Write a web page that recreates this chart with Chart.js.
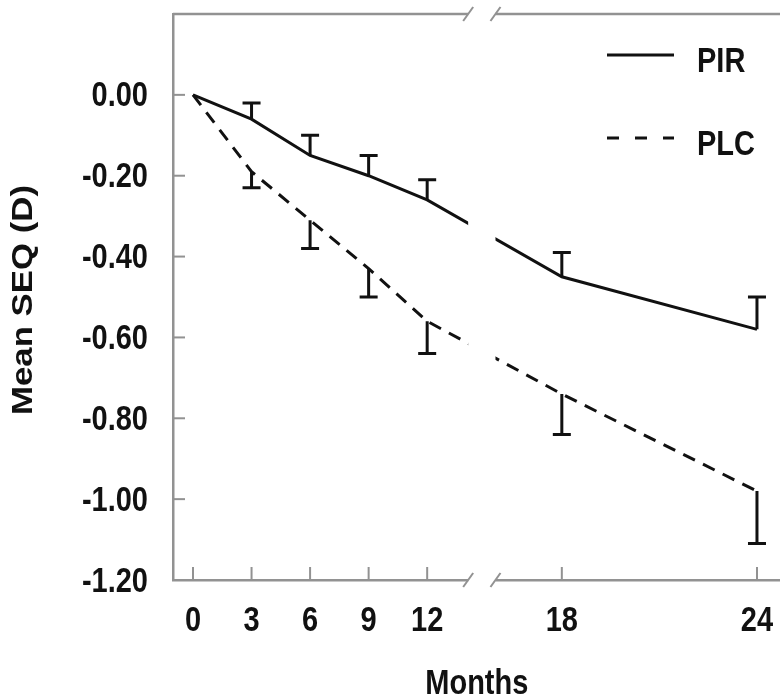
<!DOCTYPE html>
<html>
<head>
<meta charset="utf-8">
<script src="https://cdn.jsdelivr.net/npm/chart.js@4.4.1/dist/chart.umd.min.js"></script>
<style>
  body { margin: 0; background: #fff; }
</style>
</head>
<body>
<canvas id="seqChart" width="780" height="700"></canvas>
<script>
const months = [0, 3, 6, 9, 12, 18, 24];
const pirMean = [0, -0.06, -0.15, -0.20, -0.26, -0.45, -0.58];
const pirErrEnd = [null, -0.02, -0.10, -0.15, -0.21, -0.39, -0.50];
const plcMean = [0, -0.19, -0.31, -0.43, -0.56, -0.74, -0.98];
const plcErrEnd = [null, -0.23, -0.38, -0.50, -0.64, -0.84, -1.11];
const yTicks = [0, -0.2, -0.4, -0.6, -0.8, -1.0, -1.2];

const ink = "#111";
const axisGray = "#929292";
const fontCss = "bold 29px 'Liberation Sans', Arial, sans-serif";
const stretch = 1.2; // lettering is taller than plain Arial

// x axis is broken between 12 and 18 months, the late part is stretched
const breakFrom = 14.1;
const breakTo = 15.5;
function axisPos(m) {
  return m <= 12 ? m : 18.9 + (m - 18) * (10 / 6);
}

const toPoints = (vals) => months.map((m, i) => ({ x: axisPos(m), y: vals[i] }));

const data = {
  datasets: [
    {
      label: "PIR",
      data: toPoints(pirMean),
      borderColor: ink,
      borderWidth: 3,
      pointRadius: 0,
      errEnd: pirErrEnd,
    },
    {
      label: "PLC",
      data: toPoints(plcMean),
      borderColor: ink,
      borderWidth: 3,
      borderDash: [13, 9],
      pointRadius: 0,
      errEnd: plcErrEnd,
    },
  ],
};

// text drawn taller along its height; rotate for the vertical title
function tallText(ctx, text, x, y, align, rotate) {
  ctx.save();
  ctx.translate(x, y);
  if (rotate) {
    ctx.rotate(-Math.PI / 2);
    ctx.scale(stretch, 1);
  } else {
    ctx.scale(1, stretch);
  }
  ctx.font = fontCss;
  ctx.fillStyle = ink;
  ctx.textAlign = align;
  ctx.textBaseline = "middle";
  ctx.fillText(text, 0, 0);
  ctx.restore();
}

const breakPlugin = {
  id: "breakMarks",
  afterDraw(chart) {
    const { ctx, chartArea: area, scales: { x, y } } = chart;
    ctx.save();

    // top frame line
    ctx.strokeStyle = axisGray;
    ctx.lineWidth = 2.5;
    ctx.beginPath();
    ctx.moveTo(area.left, area.top);
    ctx.lineTo(area.right, area.top);
    ctx.stroke();

    // one-sided error bars
    ctx.strokeStyle = ink;
    ctx.lineWidth = 3;
    chart.data.datasets.forEach((ds) => {
      ds.data.forEach((p, i) => {
        const end = ds.errEnd[i];
        if (end == null) return;
        const px = x.getPixelForValue(p.x);
        const py0 = y.getPixelForValue(p.y);
        const py1 = y.getPixelForValue(end);
        ctx.beginPath();
        ctx.moveTo(px, py0);
        ctx.lineTo(px, py1);
        ctx.moveTo(px - 9, py1);
        ctx.lineTo(px + 9, py1);
        ctx.stroke();
      });
    });

    // blank out the break
    const gx0 = x.getPixelForValue(breakFrom);
    const gx1 = x.getPixelForValue(breakTo);
    ctx.fillStyle = "#fff";
    ctx.fillRect(gx0, area.top - 4, gx1 - gx0, area.bottom - area.top + 8);

    // slashes on both frame lines
    ctx.strokeStyle = axisGray;
    ctx.lineWidth = 2;
    [area.top, area.bottom].forEach((ly) => {
      [gx0, gx1].forEach((gx) => {
        ctx.beginPath();
        ctx.moveTo(gx - 5, ly + 7);
        ctx.lineTo(gx + 5, ly - 7);
        ctx.stroke();
      });
    });

    // inward tick marks and their labels
    ctx.lineWidth = 2;
    yTicks.forEach((v) => {
      const py = y.getPixelForValue(v);
      ctx.beginPath();
      ctx.moveTo(area.left, py);
      ctx.lineTo(area.left + 12, py);
      ctx.stroke();
      tallText(ctx, v.toFixed(2), area.left - 25, py + 2, "right");
    });
    months.forEach((m) => {
      const px = x.getPixelForValue(axisPos(m));
      ctx.beginPath();
      ctx.moveTo(px, area.bottom);
      ctx.lineTo(px, area.bottom - 13);
      ctx.stroke();
      tallText(ctx, String(m), px, area.bottom + 41, "center");
    });

    // axis titles
    tallText(ctx, "Months", (gx0 + gx1) / 2 - 5, 684, "center");
    tallText(ctx, "Mean SEQ (D)", 24, (area.top + area.bottom) / 2 + 3, "center", true);

    // legend
    const rows = [55, 138];
    chart.data.datasets.forEach((ds, i) => {
      const ly = rows[i];
      ctx.strokeStyle = ink;
      ctx.lineWidth = 3;
      ctx.setLineDash(ds.borderDash ? [12, 16] : []);
      ctx.beginPath();
      ctx.moveTo(607, ly);
      ctx.lineTo(674, ly);
      ctx.stroke();
      ctx.setLineDash([]);
      tallText(ctx, ds.label, 697, ly + 7, "left");
    });

    ctx.restore();
  },
};

const config = {
  type: "line",
  data: data,
  options: {
    responsive: false,
    animation: false,
    layout: { padding: { top: 14, right: 0, bottom: 0, left: 0 } },
    plugins: {
      legend: { display: false },
      tooltip: { enabled: false },
    },
    scales: {
      x: {
        type: "linear",
        min: -1.025,
        max: 30.08,
        afterFit: (scale) => {
          scale.height = 120;
          scale.paddingLeft = 0;
          scale.paddingRight = 0;
        },
        afterBuildTicks: (scale) => {
          scale.ticks = months.map((m) => ({ value: axisPos(m) }));
        },
        ticks: { display: false },
        grid: { display: true, drawOnChartArea: false, drawTicks: false },
        border: { display: true, color: axisGray, width: 2.5 },
      },
      y: {
        min: -1.2,
        max: 0.2,
        afterFit: (scale) => {
          scale.width = 173;
          scale.paddingTop = 0;
          scale.paddingBottom = 0;
        },
        afterBuildTicks: (scale) => {
          scale.ticks = yTicks.map((v) => ({ value: v }));
        },
        ticks: { display: false },
        grid: { display: true, drawOnChartArea: false, drawTicks: false },
        border: { display: true, color: axisGray, width: 2.5 },
      },
    },
  },
  plugins: [breakPlugin],
};

const seqChart = new Chart(document.getElementById("seqChart"), config);
</script>
</body>
</html>
